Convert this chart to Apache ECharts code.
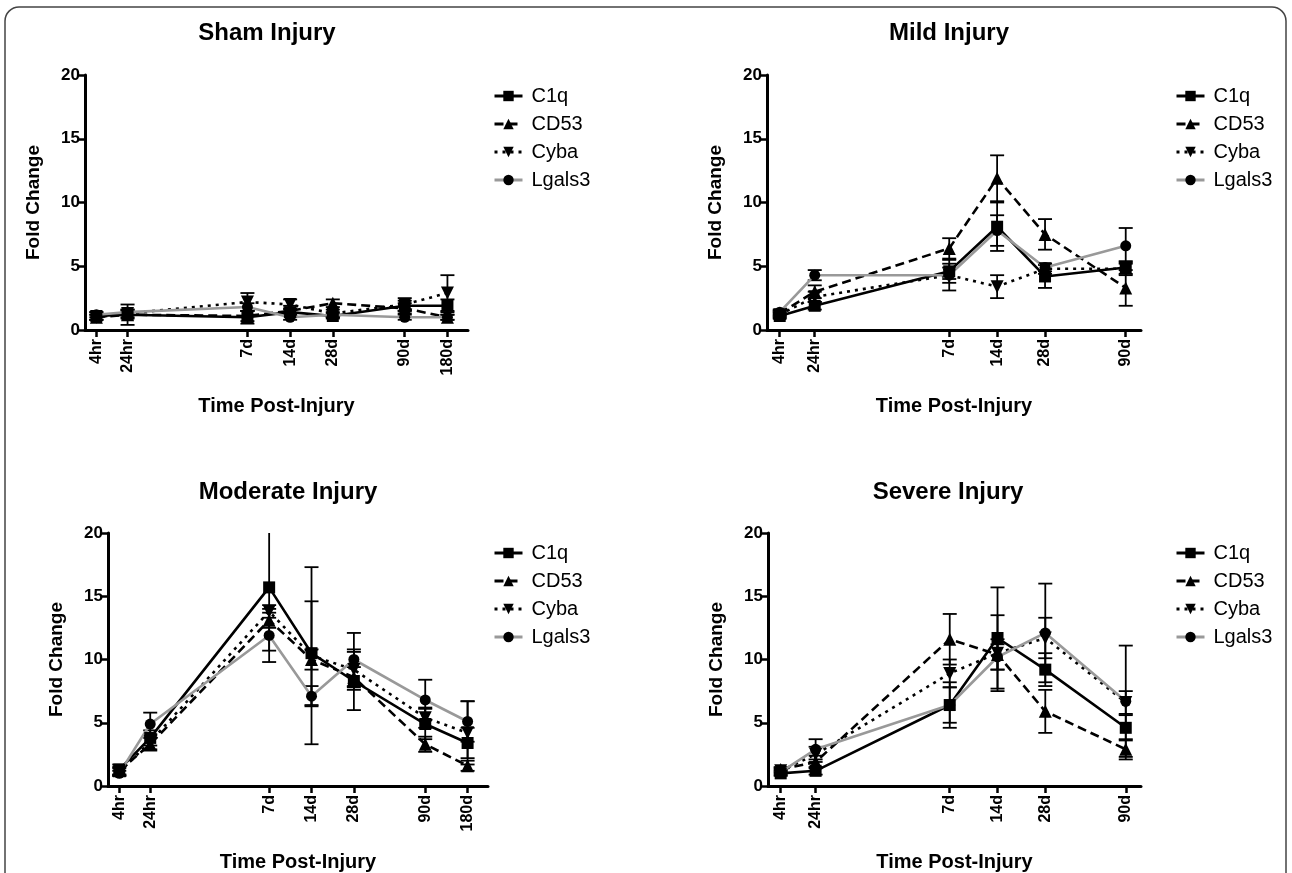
<!DOCTYPE html>
<html>
<head>
<meta charset="utf-8">
<script src="https://cdn.jsdelivr.net/npm/echarts@6/dist/echarts.min.js"></script>
<style>
html, body { margin: 0; padding: 0; background: #fff; }
#chart { width: 1292px; height: 873px; }
</style>
</head>
<body>
<div id="chart"></div>
<script>
// 时间点（横轴按对数天数排布）
const xLabels = ['4hr', '24hr', '7d', '14d', '28d', '90d', '180d'];
const xPos = [-0.22, 0, 0.845, 1.146, 1.447, 1.954, 2.255];
const geneNames = ['C1q', 'CD53', 'Cyba', 'Lgals3'];

// Sham
const shamC1q = [1.1, 1.2, 1.0, 1.4, 1.1, 1.9, 1.9];
const shamCD53 = [1.0, 1.2, 1.1, 1.5, 2.1, 1.7, 1.0];
const shamCyba = [1.0, 1.3, 2.2, 2.0, 1.3, 2.0, 2.9];
const shamLgals3 = [1.2, 1.4, 1.8, 1.0, 1.2, 1.0, 1.0];
const shamC1qErr = [0.3, 0.8, 0.5, 0.3, 0.2, 0.4, 0.5];
const shamCD53Err = [0.2, 0.3, 0.4, 0.4, 0.3, 0.4, 0.2];
const shamCybaErr = [0.2, 0.3, 0.7, 0.4, 0.3, 0.5, 1.4];
const shamLgals3Err = [0.2, 0.2, 0.3, 0.2, 0.2, 0.2, 0.2];

// Mild
const mildC1q = [1.1, 1.9, 4.6, 8.1, 4.2, 4.9];
const mildCD53 = [1.3, 3.0, 6.4, 11.9, 7.5, 3.3];
const mildCyba = [1.2, 2.6, 4.3, 3.4, 4.8, 4.8];
const mildLgals3 = [1.4, 4.3, 4.3, 7.8, 4.9, 6.6];
const mildC1qErr = [0.2, 0.3, 0.6, 1.9, 0.9, 0.5];
const mildCD53Err = [0.2, 0.5, 0.8, 1.8, 1.2, 1.4];
const mildCybaErr = [0.2, 0.4, 1.2, 0.9, 0.4, 0.5];
const mildLgals3Err = [0.2, 0.4, 0.6, 1.2, 0.3, 1.4];

// Moderate
const modC1q = [1.3, 3.8, 15.7, 10.5, 8.3, 4.9, 3.4];
const modCD53 = [1.2, 3.3, 13.1, 10.0, 8.6, 3.3, 1.6];
const modCyba = [1.1, 3.5, 13.8, 10.3, 9.2, 5.4, 4.2];
const modLgals3 = [1.0, 4.9, 11.9, 7.1, 10.0, 6.8, 5.1];
const modC1qErr = [0.4, 0.6, 5.0, 4.1, 2.3, 1.2, 1.2];
const modCD53Err = [0.3, 0.5, 0.6, 0.8, 0.8, 0.6, 0.4];
const modCybaErr = [0.3, 0.6, 0.5, 7.0, 1.6, 0.8, 2.5];
const modLgals3Err = [0.2, 0.9, 2.1, 0.8, 2.1, 1.6, 1.6];

// Severe
const sevC1q = [1.0, 1.2, 6.4, 11.7, 9.2, 4.6];
const sevCD53 = [1.3, 1.9, 11.6, 10.4, 5.9, 2.9];
const sevCyba = [1.2, 2.5, 8.9, 10.5, 11.7, 6.6];
const sevLgals3 = [1.1, 2.9, 6.4, 10.2, 12.1, 6.7];
const sevC1qErr = [0.2, 0.3, 1.4, 4.0, 1.3, 1.0];
const sevCD53Err = [0.2, 0.5, 2.0, 1.2, 1.7, 0.8];
const sevCybaErr = [0.2, 0.6, 1.1, 3.0, 1.6, 0.9];
const sevLgals3Err = [0.2, 0.8, 1.8, 1.0, 3.9, 4.4];

const FONT = "'Liberation Sans', Arial, sans-serif";

// 每个面板的布局
const panels = [
    {
        title: 'Sham Injury', titleX: 267, titleY: 33,
        grid: { left: 85, top: 75, width: 383, height: 255 }, xMax: 2.4,
        legend: { left: 488, top: 81 },
        values: [shamC1q, shamCD53, shamCyba, shamLgals3],
        errors: [shamC1qErr, shamCD53Err, shamCybaErr, shamLgals3Err]
    },
    {
        title: 'Mild Injury', titleX: 949, titleY: 33,
        grid: { left: 767, top: 75, width: 374, height: 255 }, xMax: 2.05,
        legend: { left: 1170, top: 81 },
        values: [mildC1q, mildCD53, mildCyba, mildLgals3],
        errors: [mildC1qErr, mildCD53Err, mildCybaErr, mildLgals3Err]
    },
    {
        title: 'Moderate Injury', titleX: 288, titleY: 492,
        grid: { left: 108, top: 533, width: 380, height: 254 }, xMax: 2.4,
        legend: { left: 488, top: 538 },
        values: [modC1q, modCD53, modCyba, modLgals3],
        errors: [modC1qErr, modCD53Err, modCybaErr, modLgals3Err]
    },
    {
        title: 'Severe Injury', titleX: 948, titleY: 492,
        grid: { left: 768, top: 533, width: 373, height: 254 }, xMax: 2.05,
        legend: { left: 1170, top: 538 },
        values: [sevC1q, sevCD53, sevCyba, sevLgals3],
        errors: [sevC1qErr, sevCD53Err, sevCybaErr, sevLgals3Err]
    }
];

// 线型与标记
const geneStyles = [
    { symbol: 'rect', symbolSize: 12, symbolRotate: 0, lineStyle: { color: '#000', width: 2.6, type: 'solid' } },
    { symbol: 'triangle', symbolSize: 13, symbolRotate: 0, lineStyle: { color: '#000', width: 2.6, type: [9, 5] } },
    { symbol: 'triangle', symbolSize: 13, symbolRotate: 180, lineStyle: { color: '#000', width: 2.6, type: [3, 5] } },
    { symbol: 'circle', symbolSize: 11, symbolRotate: 0, lineStyle: { color: '#999', width: 2.6, type: 'solid' } }
];

function labelFor(v) {
    for (let i = 0; i < xPos.length; i++) {
        if (Math.abs(xPos[i] - v) < 1e-6) {
            return xLabels[i];
        }
    }
    return '';
}

// 误差线
function renderErrorBar(params, api) {
    let x = api.value(0);
    let y = api.value(1);
    let e = api.value(2);
    let top = api.coord([x, y + e]);
    let bottom = api.coord([x, y - e]);
    let half = 7;
    let style = { stroke: '#000', lineWidth: 1.8 };
    return {
        type: 'group',
        children: [
            { type: 'line', shape: { x1: top[0], y1: top[1], x2: bottom[0], y2: bottom[1] }, style: style },
            { type: 'line', shape: { x1: top[0] - half, y1: top[1], x2: top[0] + half, y2: top[1] }, style: style },
            { type: 'line', shape: { x1: bottom[0] - half, y1: bottom[1], x2: bottom[0] + half, y2: bottom[1] }, style: style }
        ]
    };
}

let grids = [], xAxes = [], yAxes = [], legends = [], series = [], graphics = [];

graphics.push({
    type: 'rect', silent: true,
    shape: { x: 5, y: 7, width: 1281, height: 920, r: 14 },
    style: { fill: 'none', stroke: '#444', lineWidth: 1.5 }
});

panels.forEach(function (p, i) {
    let n = p.values[0].length;
    let ticks = xPos.slice(0, n);

    grids.push(p.grid);

    graphics.push({
        type: 'text', x: p.titleX, y: p.titleY,
        style: { text: p.title, font: 'bold 24px ' + FONT, fill: '#000', textAlign: 'center', textVerticalAlign: 'middle' }
    });

    xAxes.push({
        gridIndex: i, type: 'value', min: -0.3, max: p.xMax,
        axisLine: { onZero: false, lineStyle: { color: '#000', width: 3 } },
        axisTick: { customValues: ticks, length: 7, lineStyle: { color: '#000', width: 2.5 } },
        axisLabel: {
            customValues: ticks, rotate: 90, margin: 9, formatter: labelFor,
            fontSize: 16, fontWeight: 'bold', color: '#000', fontFamily: FONT
        },
        splitLine: { show: false },
        name: 'Time Post-Injury', nameLocation: 'middle', nameGap: 66,
        nameTextStyle: { fontSize: 20, fontWeight: 'bold', color: '#000', fontFamily: FONT }
    });

    yAxes.push({
        gridIndex: i, type: 'value', min: 0, max: 20, interval: 5,
        axisLine: { show: true, onZero: false, lineStyle: { color: '#000', width: 3 } },
        axisTick: { show: true, length: 7, lineStyle: { color: '#000', width: 2.5 } },
        axisLabel: { margin: 5, fontSize: 17, fontWeight: 'bold', color: '#000', fontFamily: FONT },
        splitLine: { show: false },
        name: 'Fold Change', nameLocation: 'middle', nameGap: 42, nameRotate: 90,
        nameTextStyle: { fontSize: 19, fontWeight: 'bold', color: '#000', fontFamily: FONT }
    });

    legends.push({
        data: geneNames, orient: 'vertical', left: p.legend.left, top: p.legend.top,
        itemWidth: 28, itemHeight: 13, itemGap: 8, selectedMode: false,
        lineStyle: { width: 3 },
        textStyle: { fontSize: 20, color: '#000', fontFamily: FONT, lineHeight: 20, padding: [0, 0, 0, 4] }
    });

    geneNames.forEach(function (name, g) {
        let st = geneStyles[g];
        series.push({
            type: 'custom', xAxisIndex: i, yAxisIndex: i, clip: true, z: 1,
            renderItem: renderErrorBar,
            data: ticks.map(function (x, k) { return [x, p.values[g][k], p.errors[g][k]]; })
        });
        series.push({
            type: 'line', name: name, xAxisIndex: i, yAxisIndex: i, z: 2,
            symbol: st.symbol, symbolSize: st.symbolSize, symbolRotate: st.symbolRotate,
            itemStyle: { color: '#000' },
            lineStyle: st.lineStyle,
            data: ticks.map(function (x, k) { return [x, p.values[g][k]]; })
        });
    });
});

let chart = echarts.init(document.getElementById('chart'));
chart.setOption({
    animation: false,
    backgroundColor: '#fff',
    textStyle: { fontFamily: FONT },
    grid: grids,
    xAxis: xAxes,
    yAxis: yAxes,
    legend: legends,
    series: series,
    graphic: graphics
});
</script>
</body>
</html>
